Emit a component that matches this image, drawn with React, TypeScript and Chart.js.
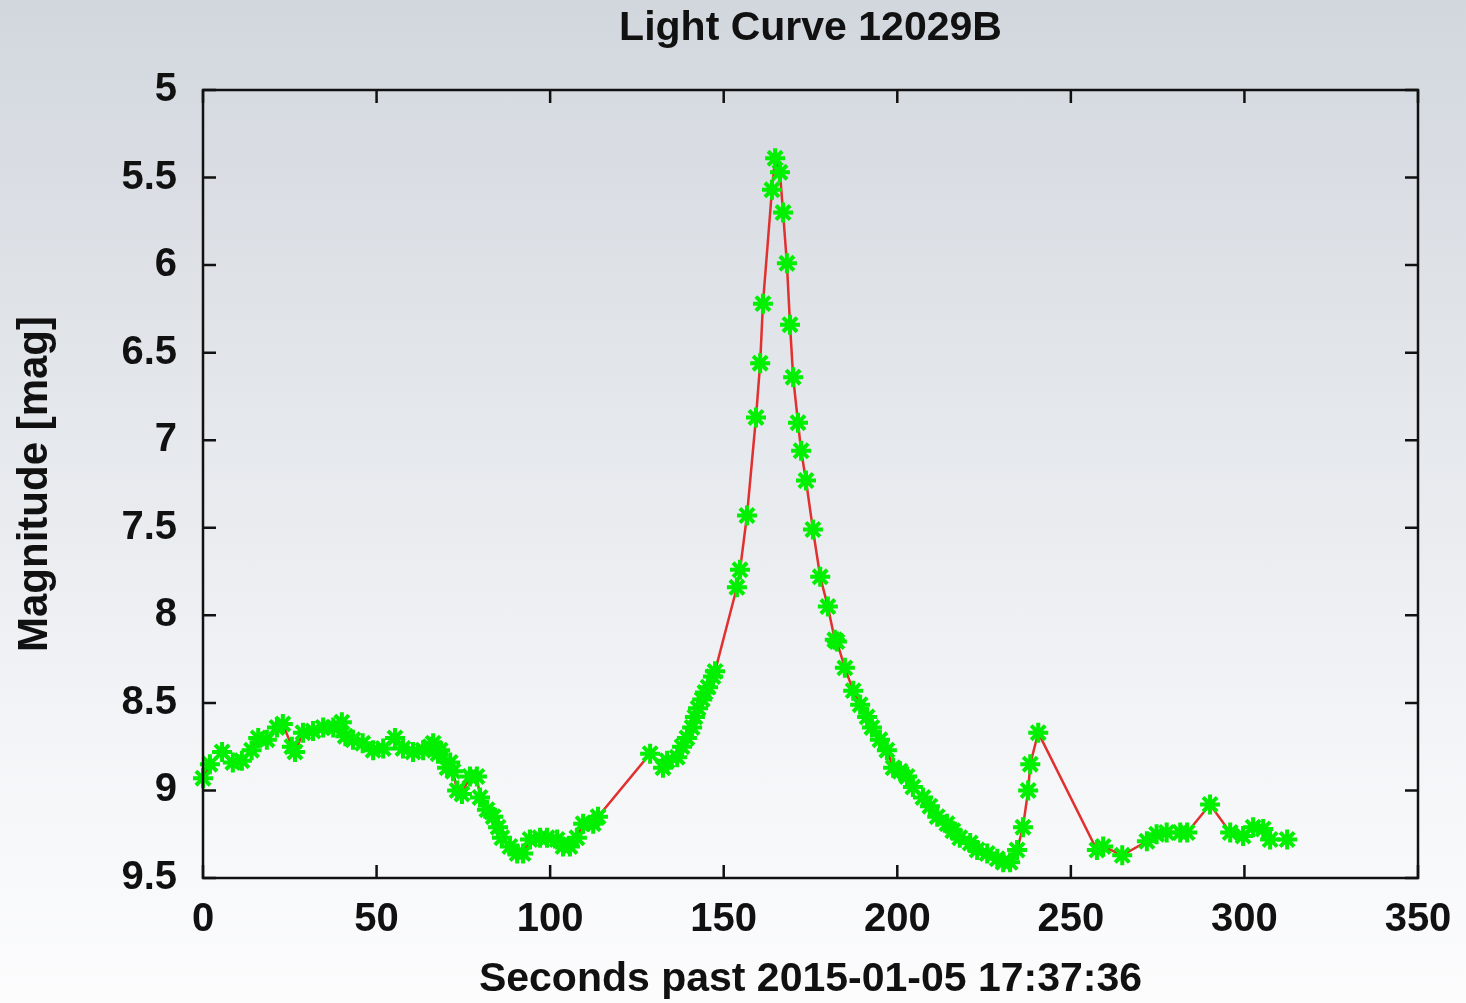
import React, { useEffect, useRef } from "react";
import { Chart, registerables } from "chart.js";

Chart.register(...registerables);

// Observation times (seconds past 2015-01-05 17:37:36)
const seconds: number[] = [
  0, 2, 5.5, 8.6, 11.2, 14, 15.9, 18.4, 21.3, 23, 25.6, 26.5, 28.8, 31.7, 34.6, 37.5, 40, 41,
  43.2, 46, 49, 51.9, 55.3, 57.6, 60.5, 63.4, 65.4, 66.3, 67.7, 68.3, 70.3, 71.2, 72, 73.2, 74.6,
  76.9, 78.9, 79.8, 81.8, 83.6, 85, 86.1, 88.4, 90.5, 92.2, 94.2, 97.1, 99.1, 102, 103.7, 105.7,
  107.7, 109.5, 112.4, 113.8,
  128.8, 132.5, 133.7, 136.6, 138, 139.4, 140.9, 141.7, 142.6, 143.8, 144.6, 145.5, 146.9, 147.5,
  153.8, 154.7, 156.7, 159.3, 160.5, 161.3, 163.9, 164.8, 166.2, 167.1, 168.2, 169.1, 170, 171.4,
  172.3, 173.7, 175.7, 177.8, 180, 182, 182.6, 184.9, 187.3, 189.3, 191.3, 192.7, 195, 197, 198.8,
  200.8, 202.8, 204.5, 207.4, 209.4, 211.5, 214.3, 216, 218, 221, 223, 225.9, 228.8, 230.5, 232.5,
  234.5, 236.2, 237.7, 238.3, 240.6,
  257.5, 259.3, 264.8, 271.9, 274.7, 277.6, 281.5, 283.5, 290.1, 295.9, 299.6, 302.5, 305.4, 307.4,
  312.3,
];

// Measured magnitude at each time
const magnitudes: number[] = [
  8.93, 8.85, 8.78, 8.84, 8.83, 8.77, 8.7, 8.71, 8.64, 8.62, 8.75, 8.78, 8.67, 8.66, 8.64, 8.64,
  8.61, 8.69, 8.71, 8.73, 8.77, 8.76, 8.7, 8.76, 8.78, 8.77, 8.75, 8.73, 8.79, 8.77, 8.87, 8.84,
  8.89, 9.0, 9.02, 8.92, 8.92, 9.04, 9.11, 9.15, 9.21, 9.27, 9.32, 9.36, 9.36, 9.28, 9.27, 9.27,
  9.28, 9.32, 9.32, 9.27, 9.19, 9.19, 9.15,
  8.79, 8.87, 8.83, 8.81, 8.75, 8.7, 8.64, 8.58, 8.53, 8.48, 8.44, 8.41, 8.35, 8.32,
  7.84, 7.74, 7.43, 6.87, 6.56, 6.22, 5.57, 5.39, 5.47, 5.7, 5.99, 6.34, 6.64, 6.9,
  7.06, 7.23, 7.51, 7.78, 7.95, 8.14, 8.15, 8.3, 8.43, 8.51, 8.58, 8.64, 8.71, 8.77, 8.87,
  8.89, 8.92, 8.98, 9.04, 9.09, 9.15, 9.19, 9.23, 9.27, 9.3, 9.34, 9.36, 9.39, 9.41, 9.41,
  9.34, 9.21, 9.0, 8.85, 8.67,
  9.34, 9.32, 9.37, 9.29, 9.25, 9.24, 9.24, 9.24, 9.08, 9.24, 9.26, 9.21, 9.22, 9.28,
  9.28,
];

const xTicks: number[] = [0, 50, 100, 150, 200, 250, 300, 350];
const yTicks: number[] = [5, 5.5, 6, 6.5, 7, 7.5, 8, 8.5, 9, 9.5];

const FONT = "'Liberation Sans', Arial, Helvetica, sans-serif";

// Gnuplot-style frame: black border, inward ticks on all four sides, title over the plot
const framePlugin = {
  id: "frame",
  afterDraw(chart: any) {
    const { ctx, chartArea } = chart;
    const { left, right, top, bottom } = chartArea;
    const xs = chart.scales.x;
    const ys = chart.scales.y;
    const tl = 13;
    ctx.save();
    ctx.strokeStyle = "#111";
    ctx.lineWidth = 2.5;
    ctx.beginPath();
    for (const v of xTicks) {
      const px = xs.getPixelForValue(v);
      ctx.moveTo(px, bottom);
      ctx.lineTo(px, bottom - tl);
      ctx.moveTo(px, top);
      ctx.lineTo(px, top + tl);
    }
    for (const v of yTicks) {
      const py = ys.getPixelForValue(v);
      ctx.moveTo(left, py);
      ctx.lineTo(left + tl, py);
      ctx.moveTo(right, py);
      ctx.lineTo(right - tl, py);
    }
    ctx.stroke();
    ctx.strokeRect(left, top, right - left, bottom - top);

    ctx.fillStyle = "#111";
    ctx.font = `bold 41px ${FONT}`;
    ctx.textAlign = "center";
    ctx.textBaseline = "middle";
    ctx.fillText("Light Curve 12029B", (left + right) / 2, 29);
    ctx.restore();
  },
};

export default function App() {
  const canvasRef = useRef<HTMLCanvasElement | null>(null);

  useEffect(() => {
    if (!canvasRef.current) return;
    const points = seconds.map((t, i) => ({ x: t, y: magnitudes[i] }));
    const chart = new Chart(canvasRef.current, {
      type: "line",
      data: {
        datasets: [
          {
            data: points,
            borderColor: "#e0302f",
            borderWidth: 2.5,
            pointStyle: "star",
            pointRadius: 10,
            pointBorderWidth: 4,
            pointBorderColor: "#00f000",
            pointBackgroundColor: "#00f000",
            tension: 0,
            clip: false as any,
          },
        ],
      },
      options: {
        animation: false,
        responsive: false,
        layout: { padding: { top: 90, right: 48, bottom: 0, left: 0 } },
        plugins: {
          legend: { display: false },
          tooltip: { enabled: false },
          title: { display: false },
        },
        scales: {
          x: {
            type: "linear",
            min: 0,
            max: 350,
            afterFit: (s: any) => {
              s.height = 125;
              s.paddingLeft = 0;
              s.paddingRight = 0;
            },
            afterBuildTicks: (s: any) => {
              s.ticks = xTicks.map((v) => ({ value: v }));
            },
            grid: { display: false, drawTicks: false },
            border: { display: false },
            ticks: {
              color: "#111",
              padding: 18,
              maxRotation: 0,
              font: { family: FONT, size: 40, weight: "bold" },
            },
            title: {
              display: true,
              text: "Seconds past 2015-01-05 17:37:36",
              color: "#111",
              padding: { top: 0, bottom: -1 },
              font: { family: FONT, size: 41, weight: "bold" },
            },
          },
          y: {
            type: "linear",
            reverse: true,
            min: 5,
            max: 9.5,
            afterFit: (s: any) => {
              s.width = 203;
              s.paddingTop = 0;
              s.paddingBottom = 0;
            },
            afterBuildTicks: (s: any) => {
              s.ticks = yTicks.map((v) => ({ value: v }));
            },
            grid: { display: false, drawTicks: false },
            border: { display: false },
            ticks: {
              color: "#111",
              padding: 26,
              font: { family: FONT, size: 40, weight: "bold" },
              callback: (v: any) => String(v),
            },
            title: {
              display: true,
              text: "Magnitude [mag]",
              color: "#111",
              padding: { top: 10, bottom: 0 },
              font: { family: FONT, size: 42, weight: "bold" },
            },
          },
        },
      },
      plugins: [framePlugin],
    });
    return () => chart.destroy();
  }, []);

  return (
    <div
      style={{
        position: "fixed",
        left: 0,
        top: 0,
        width: 1466,
        height: 1003,
        background: "linear-gradient(to bottom, #d2d7de 0%, #e6e9ed 45%, #f6f7f9 80%, #fcfcfd 100%)",
      }}
    >
      <canvas ref={canvasRef} width={1466} height={1003} style={{ display: "block" }} />
    </div>
  );
}
